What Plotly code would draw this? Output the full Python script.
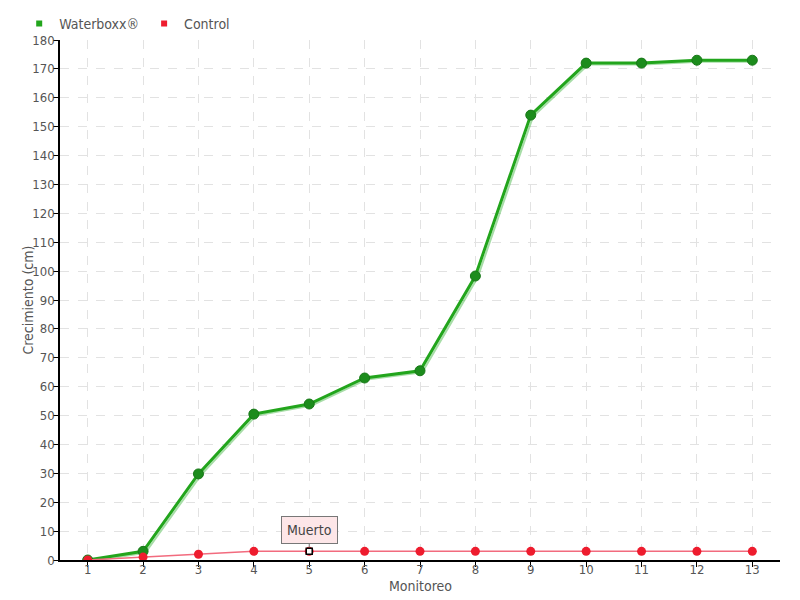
import plotly.graph_objects as go

monitoreo = list(range(1, 14))
waterboxx = [0, 3, 29.8, 50.5, 54, 63, 65.5, 98.3, 154, 172, 172, 173, 173]
control = [0, 1, 2, 3, 3, 3, 3, 3, 3, 3, 3, 3, 3]
y_ticks = list(range(0, 181, 10))
muerto_idx = 4

FONT = "DejaVu Sans Condensed, Liberation Sans Narrow, sans-serif"
GREEN = "#22a51c"
GREEN_DARK = "#1c8c1c"
RED_LINE = "#f26b7e"
RED = "#ee1c2e"
TXT = "#555555"

fig = go.Figure()

# shadow of green line
fig.add_trace(go.Scatter(x=[m + 0.04 for m in monitoreo], y=[v - 0.5 for v in waterboxx],
                         mode="lines", line=dict(color="rgba(60,180,60,0.45)", width=2),
                         showlegend=False, hoverinfo="skip"))
fig.add_trace(go.Scatter(x=monitoreo, y=waterboxx, mode="lines+markers",
                         line=dict(color=GREEN, width=3),
                         marker=dict(color=GREEN_DARK, size=10, line=dict(color="#187818", width=1)),
                         showlegend=False, name="Waterboxx®"))
fig.add_trace(go.Scatter(x=monitoreo, y=control, mode="lines+markers",
                         line=dict(color=RED_LINE, width=1.5),
                         marker=dict(color=RED, size=9),
                         showlegend=False, name="Control"))
fig.add_trace(go.Scatter(x=[monitoreo[muerto_idx]], y=[control[muerto_idx]], mode="markers",
                         marker=dict(symbol="square", color="white", size=6,
                                     line=dict(color="black", width=1.5)),
                         showlegend=False, hoverinfo="skip"))

# legend entries
fig.add_trace(go.Scatter(x=[None], y=[None], mode="markers", name="Waterboxx®",
                         marker=dict(symbol="square", color=GREEN, size=6)))
fig.add_trace(go.Scatter(x=[None], y=[None], mode="markers", name="Control",
                         marker=dict(symbol="square", color=RED, size=6)))

fig.add_annotation(x=monitoreo[muerto_idx], y=control[muerto_idx], text="Muerto",
                   showarrow=True, arrowhead=0, arrowcolor="#777", arrowwidth=1,
                   ax=0, ay=-21, standoff=4,
                   bgcolor="#fde6e8", bordercolor="#777", borderwidth=1, borderpad=5,
                   font=dict(family=FONT, size=14, color="#444"))

# axis titles
fig.add_annotation(xref="paper", yref="paper", x=0.5, y=-0.05, text="Monitoreo",
                   showarrow=False, xanchor="center", yanchor="middle",
                   font=dict(family=FONT, size=14, color=TXT))
fig.add_annotation(xref="paper", yref="paper", x=-0.045, y=0.5, text="Crecimiento (cm)",
                   showarrow=False, xanchor="center", yanchor="middle", textangle=-90,
                   font=dict(family=FONT, size=14, color=TXT))

fig.update_layout(
    width=800, height=600,
    margin=dict(l=52, r=28, t=32, b=48, autoexpand=False),
    paper_bgcolor="white", plot_bgcolor="white",
    font=dict(family=FONT, size=14, color=TXT),
    legend=dict(orientation="h", xref="container", yref="container",
                x=0.014, y=1.0, xanchor="left", yanchor="top",
                font=dict(family=FONT, size=14, color=TXT), itemwidth=30,
                tracegroupgap=0, bgcolor="rgba(0,0,0,0)"),
    xaxis=dict(range=[0.5, 13.5], tickmode="array", tickvals=monitoreo,
               ticktext=[str(m) for m in monitoreo], automargin=False,
               tickfont=dict(size=13),
               showgrid=True, gridcolor="#e2e2e2", griddash="dash",
               showline=True, linecolor="black", linewidth=1.5,
               ticks="outside", ticklen=5, tickcolor="black", ticklabelstandoff=-8,
               zeroline=False),
    yaxis=dict(range=[0, 180], tickmode="array", tickvals=y_ticks, automargin=False,
               tickfont=dict(size=13),
               showgrid=True, gridcolor="#e2e2e2", griddash="dash",
               showline=True, linecolor="black", linewidth=1.5,
               ticks="outside", ticklen=5, tickcolor="black", ticklabelstandoff=-4,
               zeroline=False),
)

fig.write_html("out.html")
